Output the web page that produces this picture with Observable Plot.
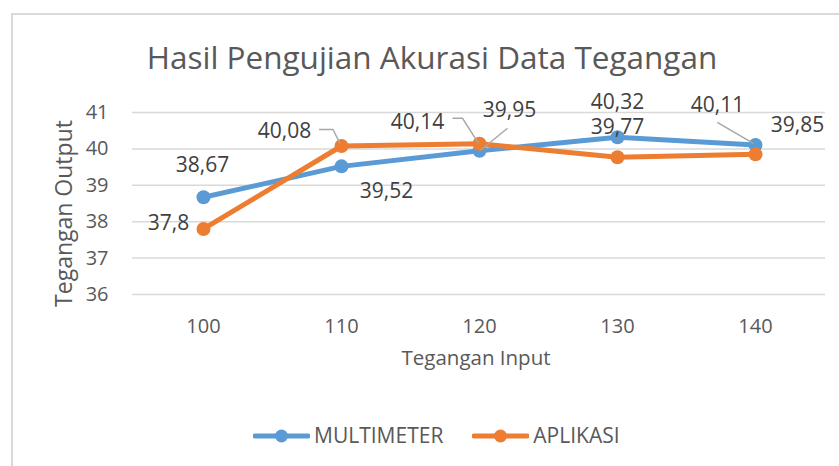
<!DOCTYPE html>
<html>
<head>
<meta charset="utf-8">
<script src="https://cdn.jsdelivr.net/npm/d3@7"></script>
<script src="https://cdn.jsdelivr.net/npm/@observablehq/plot@0.6"></script>
<style>
  html, body { margin: 0; padding: 0; background: #fff; }
  #wrap { position: relative; width: 839px; height: 466px; overflow: hidden; background: #fff; font-family: "Open Sans", sans-serif; color: #595959; }
  #frame { position: absolute; left: 11px; top: 13px; width: 900px; height: 500px; border-top: 2px solid #d9d9d9; border-left: 2px solid #d9d9d9; box-sizing: border-box; }
  #title { position: absolute; left: 432px; top: 41px; transform: translateX(-50%); font-size: 31.5px; line-height: 1; white-space: nowrap; }
  #chart { position: absolute; left: 0; top: 80px; }
  #legend { position: absolute; top: 425px; left: 253px; display: flex; align-items: center; font-size: 21px; line-height: 1; white-space: nowrap; }
  #legend .item { display: flex; align-items: center; }
  #legend svg { display: block; margin-right: 4px; }
</style>
</head>
<body>
<div id="wrap">
  <div id="frame"></div>
  <div id="title"></div>
  <div id="chart"></div>
  <div id="legend"></div>
</div>
<script>
// ---- data ----
const titleText = "Hasil Pengujian Akurasi Data Tegangan";
const xTitle = "Tegangan Input";
const yTitle = "Tegangan Output";
const categories = [100, 110, 120, 130, 140];
const seriesNames = ["MULTIMETER", "APLIKASI"];
const multimeter = [38.67, 39.52, 39.95, 40.32, 40.11];
const aplikasi = [37.8, 40.08, 40.14, 39.77, 39.85];
const yTicks = [36, 37, 38, 39, 40, 41];
const colors = ["#5B9BD5", "#ED7D31"];

// ---- label layout (pixel offsets from each point) ----
const labelOffsets = {
  MULTIMETER: [[-1, -32], [45, 25], [30, -40], [0, -35], [-38, -40]],
  APLIKASI:   [[-35, -6], [-57, -15], [-62, -22], [0, -30], [42, -29]]
};
const leaders = [
  { series: "APLIKASI", cat: 110, pts: [[-22, -16], [-8, -16], [-1, -2]] },
  { series: "APLIKASI", cat: 120, pts: [[-26.5, -25], [-16.5, -25], [-0.5, 0]] },
  { series: "MULTIMETER", cat: 120, pts: [[28.5, -22], [1.5, 0]] },
  { series: "MULTIMETER", cat: 140, pts: [[-37.7, -22], [-1.7, -1]] }
];

const seriesValues = { MULTIMETER: multimeter, APLIKASI: aplikasi };
const rows = seriesNames.flatMap((s) => categories.map((c, i) => ({ series: s, cat: c, value: seriesValues[s][i], i })));
const fmt = (v) => String(v).replace(".", ",");

document.getElementById("title").textContent = titleText;

const marks = [
  Plot.gridY(yTicks, { stroke: "#d9d9d9", strokeOpacity: 1, strokeWidth: 1.5 }),
  Plot.axisY(yTicks, { tickSize: 0, tickPadding: 24, fontSize: 20, label: null }),
  Plot.axisX(categories, { tickSize: 0, tickPadding: 24, fontSize: 20, label: null })
];
seriesNames.forEach((s, k) => {
  const d = rows.filter((r) => r.series === s);
  marks.push(Plot.line(d, { x: "cat", y: "value", stroke: colors[k], strokeWidth: 5 }));
  marks.push(Plot.dot(d, { x: "cat", y: "value", r: 7, fill: colors[k], stroke: "none" }));
});
rows.forEach((r) => {
  const [dx, dy] = labelOffsets[r.series][r.i];
  marks.push(Plot.text([r], { x: "cat", y: "value", text: (d) => fmt(d.value), dx, dy, fontSize: 21, fill: "#404040" }));
});
marks.push(Plot.text([yTitle], { frameAnchor: "left", textAnchor: "middle", lineAnchor: "middle", rotate: -90, dx: -68, dy: 10, fontSize: 23, fill: "#595959" }));
marks.push(Plot.text([xTitle], { frameAnchor: "bottom", textAnchor: "middle", lineAnchor: "middle", dx: -3, dy: 64, fontSize: 20.5, fill: "#595959" }));

const chart = Plot.plot({
  width: 839,
  height: 300,
  marginTop: 32,
  marginBottom: 86,
  marginLeft: 132,
  marginRight: 14,
  x: { type: "point", domain: categories, padding: 0.5 },
  y: { domain: [36, 41] },
  style: { fontFamily: "'Open Sans', sans-serif", color: "#595959", background: "transparent", overflow: "visible" },
  marks
});
document.getElementById("chart").appendChild(chart);

// leader lines via the plot's scales
const sx = chart.scale("x"), sy = chart.scale("y");
const svg = d3.select(chart);
leaders.forEach((l) => {
  const v = seriesValues[l.series][categories.indexOf(l.cat)];
  const px = sx.apply(l.cat), py = sy.apply(v);
  const d = l.pts.map(([ox, oy], j) => (j ? "L" : "M") + (px + ox) + "," + (py + oy)).join("");
  svg.append("path").attr("d", d).attr("fill", "none").attr("stroke", "#a6a6a6").attr("stroke-width", 1.4);
});

// legend
const legend = d3.select("#legend");
seriesNames.forEach((s, k) => {
  const item = legend.append("div").attr("class", "item").style("margin-right", k === 0 ? "29px" : "0");
  const sw = item.append("svg").attr("width", 57).attr("height", 20);
  sw.append("line").attr("x1", 2).attr("x2", 55).attr("y1", 10).attr("y2", 10).attr("stroke", colors[k]).attr("stroke-width", 5).attr("stroke-linecap", "round");
  sw.append("circle").attr("cx", 28.5).attr("cy", 10).attr("r", 6.5).attr("fill", colors[k]);
  item.append("span").text(s);
});
</script>
</body>
</html>
